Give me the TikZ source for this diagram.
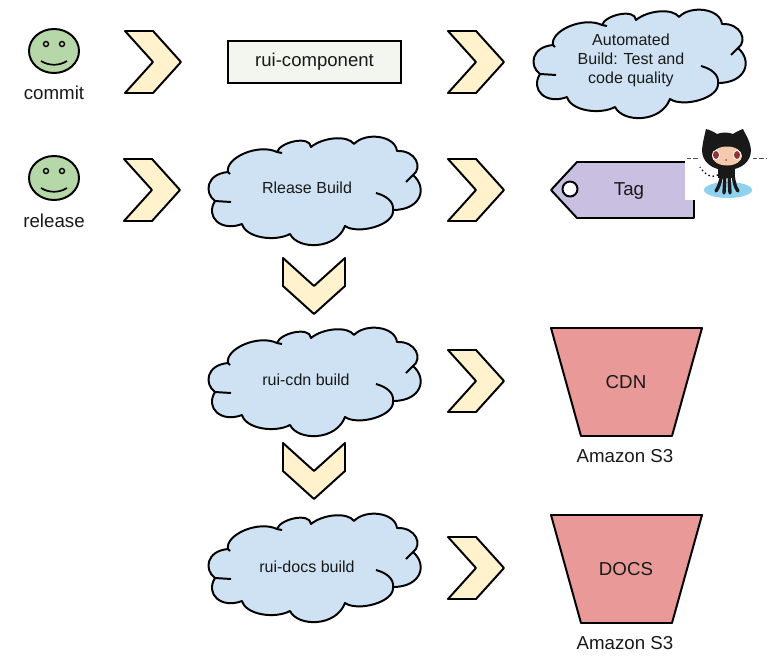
\documentclass[tikz,border=0pt]{standalone}
\usepackage{fontspec}
\setmainfont{Liberation Sans}
\definecolor{chevfill}{HTML}{FFF2CC}
\definecolor{cloudfill}{HTML}{CFE2F3}
\definecolor{facefill}{HTML}{B6D7A8}
\definecolor{tagfill}{HTML}{C9BFE0}
\definecolor{bucketfill}{HTML}{EA9999}
\definecolor{boxfill}{HTML}{F2F6EF}
\definecolor{catskin}{HTML}{F4C9AE}
\definecolor{catpond}{HTML}{8FD2F0}
\newcommand{\bigtext}{\fontsize{13.3}{15.5}\selectfont}
\newcommand{\smalltext}{\fontsize{11.4}{13.5}\selectfont}
\tikzset{
  outline/.style={draw=black,line width=1.4pt,line join=round},
  biglabel/.style={font=\bigtext,text=black!90,inner sep=0pt},
  smalllabel/.style={font=\smalltext,text=black!90,inner sep=0pt,align=center},
  chevron/.pic={
    \path[outline,fill=chevfill] (-28,-31) -- (0,-31) -- (28,0) -- (0,31) -- (-28,31) -- (0,0) -- cycle;
  },
  smiley/.pic={
    \path[outline,fill=facefill] (0,0) ellipse (25 and 22);
    \draw[line width=1pt] (-8,-7) circle (2.5);
    \draw[line width=1pt] (8,-7) circle (2.5);
    \draw[line width=1.2pt] (-13,10) .. controls (-5,15) and (5,15) .. (13,10);
  },
  bluecloud/.pic={
    \path[outline,fill=cloudfill] (-85,-18)
      .. controls (-88,-32) and (-55,-47) .. (-36,-38)
      .. controls (-33,-48) and (-3,-55) .. (-2,-43)
      .. controls (10,-53) and (35,-55) .. (41,-46)
      .. controls (52,-58) and (82,-55) .. (84,-39)
      .. controls (103,-40) and (110,-22) .. (100,-15)
      .. controls (115,-2) and (108,20) .. (80,20)
      .. controls (82,35) and (45,45) .. (32,36)
      .. controls (23,60) and (-15,60) .. (-23,44)
      .. controls (-38,52) and (-67,48) .. (-71,34)
      .. controls (-92,42) and (-108,27) .. (-98,11)
      .. controls (-109,3) and (-107,-16) .. (-85,-18) -- cycle;
    \draw[line width=1.4pt] (-85,-18) -- (-83,-16);
    \draw[line width=1.4pt] (-36,-38) -- (-31,-37);
    \draw[line width=1.4pt] (100,-15) -- (93,-8);
    \draw[line width=1.4pt] (63,3) .. controls (74,6) and (81,12) .. (80,20);
    \draw[line width=1.4pt] (-98,11) -- (-82,12);
  },
  bucket/.pic={
    \path[outline,fill=bucketfill] (-75.5,-54) -- (75.5,-54) -- (45.5,54) -- (-45.5,54) -- cycle;
  }
}
\begin{document}
\begin{tikzpicture}[x=0.025cm,y=-0.025cm]
\useasboundingbox (0,0) rectangle (784,671);

\pic (smileA) at (54,51) {smiley};
\pic (smileB) at (54,178) {smiley};
\node[biglabel] (commit) at (54,93) {commit};
\node[biglabel] (release) at (54,221) {release};

\pic (chevA) at (153,62) {chevron};
\pic (chevB) at (476,62) {chevron};
\pic (chevC) at (152,190) {chevron};
\pic (chevD) at (476,190) {chevron};
\pic[rotate=-90] (chevE) at (314,286) {chevron};
\pic (chevF) at (476,381) {chevron};
\pic[rotate=-90] (chevG) at (314,471) {chevron};
\pic (chevH) at (476,568) {chevron};

\node[draw=black,line width=1.4pt,fill=boxfill,minimum width=122.5pt,minimum height=30pt,font=\fontsize{13.2}{15}\selectfont,text=black!90,inner sep=0pt] (component) at (314.5,62) {rui-component};

\pic (cloudA) at (638,63) {bluecloud};
\pic (cloudB) at (313,190) {bluecloud};
\pic (cloudC) at (313,381) {bluecloud};
\pic (cloudD) at (313,567) {bluecloud};
\node[smalllabel] (automated) at (631,60) {Automated\\Build: Test and\\code quality};
\node[smalllabel] (releasebuild) at (307,188) {Rlease Build};
\node[smalllabel] (cdnbuild) at (306,380) {rui-cdn build};
\node[smalllabel] (docsbuild) at (307,567) {rui-docs build};

\path[outline,fill=tagfill] (551,190) -- (577,162) -- (694,162) -- (694,218) -- (577,218) -- cycle;
\path[outline,fill=white] (570,189) circle (7.5);
\node[biglabel] (tag) at (629,191) {Tag};

\fill[white] (684.5,124) rectangle (766,200);
\fill[catpond] (728,190) ellipse (24 and 8);
\draw[line width=1pt,dotted,black!60!blue] (718,175) .. controls (712,178) and (706,176) .. (700,167);
\fill[black!90] (702,150) .. controls (703,140) and (705,134) .. (706,129) .. controls (710,130) and (714,132) .. (717,134) .. controls (722,132) and (728,132) .. (733,134) .. controls (736,132) and (740,130) .. (743,129) .. controls (745,134) and (750,140) .. (751,150) .. controls (751,162) and (741,170) .. (726,170) .. controls (712,170) and (702,162) .. (702,150) -- cycle;
\fill[catskin] (727,156) ellipse (15 and 9.5);
\fill[white] (716,155) ellipse (4 and 5);
\fill[white] (737,155) ellipse (4 and 5);
\fill[red!45!black!80] (716,155) ellipse (3 and 4);
\fill[red!45!black!80] (737,155) ellipse (3 and 4);
\fill[red!45!black!70] (726,160) circle (1);
\fill[black!90] (718,168) rectangle (735,178);
\draw[line width=2.4pt,black!90,line cap=round] (722,175) .. controls (720,182) and (719,187) .. (716,191);
\draw[line width=2.4pt,black!90,line cap=round] (725,175) -- (724,193);
\draw[line width=2.4pt,black!90,line cap=round] (729,175) -- (730,193);
\draw[line width=2.4pt,black!90,line cap=round] (733,175) .. controls (734,182) and (735,187) .. (738,191);
\draw[line width=0.5pt,black!70,dash pattern=on 3pt off 1.5pt] (687,158) -- (699,158);
\draw[line width=0.5pt,black!70,dash pattern=on 3pt off 1.5pt] (753,158) -- (766,158);

\pic (bucketA) at (626.5,382) {bucket};
\pic (bucketB) at (626.5,569) {bucket};
\node[biglabel] (cdn) at (626,382) {CDN};
\node[biglabel] (docs) at (626,569) {DOCS};
\node[biglabel] (amazonA) at (625,456) {Amazon S3};
\node[biglabel] (amazonB) at (625,643) {Amazon S3};
\end{tikzpicture}
\end{document}
